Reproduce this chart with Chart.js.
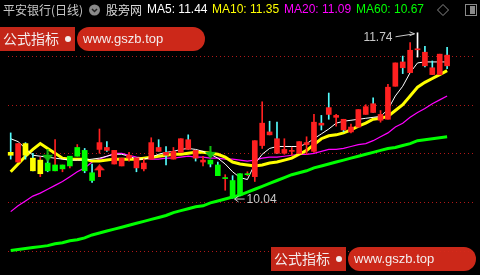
<!DOCTYPE html>
<html>
<head>
<meta charset="utf-8">
<script src="https://cdn.jsdelivr.net/npm/chart.js@4.4.1/dist/chart.umd.min.js"></script>
<style>
  html, body { margin: 0; padding: 0; background: #000; }
  #wrap { width: 480px; height: 275px; }
</style>
</head>
<body>
<div id="wrap"><canvas id="kline" width="480" height="275"></canvas></div>
<script>
// 平安银行 daily K-line with MA5/10/20/60, candles drawn as floating bars

// 60 trading days + 3 empty slots on the right
const days = ["1","2","3","4","5","6","7","8","9","10","11","12","13","14","15","16","17","18","19","20",
  "21","22","23","24","25","26","27","28","29","30","31","32","33","34","35","36","37","38","39","40",
  "41","42","43","44","45","46","47","48","49","50","51","52","53","54","55","56","57","58","59","60","","",""];

const opens = [10.51,10.41,10.60,10.45,10.29,10.40,10.32,10.34,10.37,10.47,10.53,10.30,10.54,10.56,10.39,10.37,10.45,10.45,10.34,10.44,
  10.56,10.51,10.44,10.51,10.64,10.53,10.41,10.43,10.38,10.24,10.22,10.29,10.28,10.26,10.58,10.72,10.65,10.50,10.52,10.50,
  10.59,10.52,10.81,10.97,10.87,10.85,10.72,10.77,10.90,11.01,10.84,10.85,11.19,11.44,11.33,11.565,11.54,11.38,11.31,11.51];
const closes = [10.48,10.60,10.48,10.32,10.43,10.32,10.38,10.38,10.47,10.56,10.32,10.22,10.61,10.53,10.53,10.45,10.48,10.35,10.40,10.61,
  10.52,10.48,10.52,10.65,10.54,10.45,10.43,10.39,10.27,10.25,10.04,10.07,10.29,10.63,10.81,10.69,10.50,10.54,10.53,10.62,
  10.61,10.82,10.79,10.90,10.89,10.74,10.77,10.95,10.98,10.92,10.90,11.18,11.43,11.38,11.56,11.565,11.40,11.31,11.52,11.40];
const highs = [10.71,10.60,10.61,10.50,10.46,10.44,10.64,10.38,10.47,10.59,10.55,10.39,10.75,10.62,10.53,10.45,10.51,10.45,10.44,10.66,
  10.64,10.57,10.56,10.65,10.69,10.53,10.47,10.43,10.41,10.28,10.27,10.29,10.31,10.63,11.03,10.83,10.82,10.65,10.56,10.62,
  10.67,10.90,10.89,11.12,10.90,10.85,10.80,10.95,11.00,11.07,10.94,11.21,11.43,11.50,11.64,11.74,11.60,11.45,11.52,11.59];
const lows = [10.44,10.41,10.44,10.32,10.26,10.31,10.32,10.31,10.35,10.47,10.30,10.20,10.50,10.52,10.39,10.37,10.42,10.31,10.32,10.44,
  10.52,10.38,10.44,10.51,10.54,10.42,10.37,10.36,10.27,10.12,10.04,10.07,10.27,10.21,10.55,10.69,10.50,10.49,10.48,10.50,
  10.49,10.51,10.74,10.85,10.78,10.72,10.71,10.77,10.90,10.92,10.82,10.85,11.19,11.32,11.33,11.49,11.39,11.31,11.31,11.37];
// indicator state per day (decides body colour)
const trend = ["hold","up","hold","hold","hold","down","down","down","down","down","down","down","up","up","up","up","up","up","up","up",
  "up","up","up","up","up","up","up","down","down","down","down","down","down","up","up","up","up","up","up","up",
  "up","up","up","up","up","up","up","up","up","up","up","up","up","up","up","up","up","up","up","up"];

const ma5 = [10.65,10.62,10.55,10.48,10.47,10.46,10.45,10.44,10.43,10.43,10.43,10.44,10.45,10.47,10.49,10.49,10.47,10.44,10.44,10.46,
  10.49,10.51,10.52,10.54,10.55,10.54,10.52,10.49,10.45,10.39,10.31,10.25,10.23,10.39,10.49,10.55,10.57,10.57,10.57,10.57,
  10.60,10.65,10.70,10.75,10.81,10.83,10.84,10.85,10.86,10.87,10.88,10.95,11.09,11.19,11.33,11.43,11.44,11.44,11.44,11.44];
const ma10 = [10.31,10.39,10.47,10.54,10.60,10.55,10.50,10.45,10.44,10.44,10.44,10.42,10.42,10.43,10.44,10.44,10.44,10.44,10.45,10.46,
  10.47,10.48,10.49,10.49,10.50,10.51,10.51,10.50,10.49,10.46,10.41,10.39,10.38,10.37,10.38,10.40,10.41,10.43,10.45,10.49,
  10.53,10.59,10.65,10.68,10.69,10.71,10.74,10.78,10.81,10.85,10.86,10.88,10.94,11.00,11.09,11.18,11.23,11.27,11.31,11.35];
const ma20 = [9.90,9.96,10.01,10.06,10.09,10.13,10.17,10.21,10.26,10.31,10.35,10.41,10.44,10.47,10.50,10.50,10.48,10.46,10.45,10.44,
  10.44,10.45,10.45,10.46,10.47,10.46,10.46,10.45,10.45,10.44,10.44,10.43,10.42,10.43,10.45,10.46,10.46,10.47,10.48,10.49,
  10.49,10.50,10.52,10.54,10.54,10.55,10.57,10.59,10.60,10.63,10.67,10.71,10.77,10.81,10.87,10.92,10.96,11.01,11.05,11.09];
const ma60 = [9.50,9.51,9.52,9.53,9.54,9.55,9.57,9.58,9.60,9.61,9.63,9.66,9.68,9.70,9.72,9.74,9.76,9.78,9.80,9.82,
  9.84,9.86,9.89,9.91,9.93,9.95,9.96,9.99,10.01,10.03,10.05,10.07,10.10,10.13,10.16,10.19,10.22,10.25,10.28,10.30,
  10.32,10.35,10.37,10.39,10.41,10.43,10.45,10.47,10.49,10.51,10.53,10.55,10.56,10.58,10.60,10.63,10.64,10.65,10.66,10.67];

// signal arrows: [day index, price]
const buySignals = [[12, 10.32]];
const sellSignals = [[5, 10.48], [27, 10.51]];

const gridPrices = [9.5, 10, 10.5, 11, 11.5];
const priceMin = 9.32;
const priceMax = 11.82;

const C = {
  red: "#ff2020",
  green: "#00ff00",
  yellow: "#ffff00",
  cyan: "#54fcfc",
  magenta: "#ff00ff",
  white: "#ffffff",
  grid: "#b01818",
  text: "#c8c8c8"
};
const CJK = '"Noto Sans CJK SC", "Liberation Sans", sans-serif';
const LAT = '"Liberation Sans", "DejaVu Sans", sans-serif';

const bodyColor = (t) => t === "hold" ? C.yellow : t === "down" ? C.green : C.red;
const wickColor = (i) => closes[i] > opens[i] ? C.red : closes[i] < opens[i] ? C.cyan : C.white;

function arrowImage(up, color) {
  const c = document.createElement("canvas");
  c.width = 11; c.height = 13;
  const g = c.getContext("2d");
  g.fillStyle = color;
  g.beginPath();
  if (up) {
    g.moveTo(5.5, 0); g.lineTo(11, 6); g.lineTo(0, 6); g.closePath(); g.fill();
    g.fillRect(4, 6, 3, 7);
  } else {
    g.fillRect(4.5, 0, 2, 7);
    g.moveTo(0, 6); g.lineTo(11, 6); g.lineTo(5.5, 13); g.closePath(); g.fill();
  }
  return c;
}

const lineDs = (label, data, color, width) => ({
  type: "line", label, data, borderColor: color, borderWidth: width,
  pointRadius: 0, tension: 0, order: 3
});

// dotted price grid, placed with the y scale
const dottedGrid = {
  id: "dottedGrid",
  beforeDatasetsDraw(chart) {
    const ctx = chart.ctx, ys = chart.scales.y, area = chart.chartArea;
    ctx.save();
    ctx.fillStyle = C.grid;
    gridPrices.forEach((p) => {
      const y = Math.round(ys.getPixelForValue(p));
      for (let x = area.left + 1; x < area.right; x += 4) ctx.fillRect(x, y, 1, 1);
    });
    ctx.restore();
  }
};

const overlay = {
  id: "overlay",
  afterDraw(chart) {
    const ctx = chart.ctx;
    const xs = chart.scales.x, ys = chart.scales.y;
    ctx.save();
    ctx.textBaseline = "middle";

    // header
    ctx.font = "12px " + CJK;
    ctx.fillStyle = C.text;
    ctx.fillText("平安银行(日线)", 3, 10);
    ctx.fillStyle = "#8a8a8a";
    ctx.beginPath(); ctx.arc(94.5, 10, 5.5, 0, Math.PI * 2); ctx.fill();
    ctx.strokeStyle = "#222"; ctx.lineWidth = 1.5;
    ctx.beginPath(); ctx.moveTo(92, 9); ctx.lineTo(94.5, 11.5); ctx.lineTo(97, 9); ctx.stroke();
    ctx.fillStyle = "#d8d8d8";
    ctx.fillText("股旁网", 106, 10);

    ctx.font = "12px " + LAT;
    const heads = [["MA5", ma5, C.white, 147], ["MA10", ma10, C.yellow, 212], ["MA20", ma20, C.magenta, 284], ["MA60", ma60, C.green, 356]];
    heads.forEach(([name, arr, col, x]) => {
      ctx.fillStyle = col;
      ctx.fillText(name + ": " + arr[arr.length - 1].toFixed(2), x, 10);
    });
    ctx.strokeStyle = "#8a8a8a"; ctx.lineWidth = 1;
    ctx.beginPath(); ctx.moveTo(443, 4.5); ctx.lineTo(448.5, 10); ctx.lineTo(443, 15.5); ctx.lineTo(437.5, 10); ctx.closePath(); ctx.stroke();
    ctx.strokeRect(465.5, 4.5, 11, 11);
    ctx.fillStyle = "#8a8a8a"; ctx.fillRect(470, 6, 5, 8);

    // high / low labels
    const hi = highs.indexOf(Math.max(...highs));
    const lo = lows.indexOf(Math.min(...lows));
    ctx.fillStyle = C.text; ctx.strokeStyle = C.text; ctx.lineWidth = 1;
    const hx = xs.getPixelForValue(hi), hy = ys.getPixelForValue(highs[hi]);
    ctx.textAlign = "right";
    ctx.fillText(highs[hi].toFixed(2), hx - 25, hy + 5);
    ctx.beginPath(); ctx.moveTo(hx - 22, hy + 4); ctx.lineTo(hx - 3, hy + 1); ctx.stroke();
    ctx.beginPath(); ctx.moveTo(hx - 8, hy - 1); ctx.lineTo(hx - 3, hy + 1); ctx.lineTo(hx - 8, hy + 3); ctx.stroke();
    const lx = xs.getPixelForValue(lo), ly = ys.getPixelForValue(lows[lo]);
    ctx.textAlign = "left";
    ctx.fillText(lows[lo].toFixed(2), lx + 14, ly + 2);
    ctx.beginPath(); ctx.moveTo(lx + 2, ly + 1); ctx.lineTo(lx + 12, ly + 1); ctx.stroke();
    ctx.beginPath(); ctx.moveTo(lx + 6, ly - 2); ctx.lineTo(lx + 2, ly + 1); ctx.lineTo(lx + 6, ly + 4); ctx.stroke();

    // watermark badges
    const badge = (x, y) => {
      ctx.fillStyle = "rgba(205,40,25,0.95)";
      ctx.fillRect(x, y, 75, 24);
      ctx.fillStyle = "rgba(215,42,26,0.95)";
      ctx.beginPath(); ctx.roundRect(x + 77, y, 128, 24, 12); ctx.fill();
      ctx.fillStyle = "#f4ecec";
      ctx.textAlign = "left";
      ctx.font = "14px " + CJK;
      ctx.fillText("公式指标", x + 3, y + 12);
      ctx.beginPath(); ctx.arc(x + 68, y + 12, 3, 0, Math.PI * 2); ctx.fill();
      ctx.font = "13px " + LAT;
      ctx.fillText("www.gszb.top", x + 83, y + 12);
    };
    badge(0, 27);
    badge(271, 247);
    ctx.restore();
  }
};

new Chart(document.getElementById("kline"), {
  data: {
    labels: days,
    datasets: [
      {
        type: "bar", label: "body", order: 1, grouped: false,
        data: opens.map((o, i) => [o, closes[i]]),
        backgroundColor: trend.map(bodyColor),
        barThickness: 5, minBarLength: 1, borderWidth: 0
      },
      {
        type: "bar", label: "wick", order: 2, grouped: false,
        data: lows.map((l, i) => [l, highs[i]]),
        backgroundColor: lows.map((l, i) => wickColor(i)),
        barThickness: 1, borderWidth: 0
      },
      lineDs("MA5", ma5, C.white, 1),
      lineDs("MA10", ma10, C.yellow, 3),
      lineDs("MA20", ma20, C.magenta, 1.2),
      lineDs("MA60", ma60, C.green, 3),
      {
        type: "line", label: "buy", order: 0, showLine: false,
        data: buySignals.map(([i, p]) => ({ x: days[i], y: p })),
        pointStyle: arrowImage(true, C.red), pointRadius: 6
      },
      {
        type: "line", label: "sell", order: 0, showLine: false,
        data: sellSignals.map(([i, p]) => ({ x: days[i], y: p })),
        pointStyle: arrowImage(false, "#10c010"), pointRadius: 6
      }
    ]
  },
  options: {
    responsive: false,
    animation: false,
    layout: { padding: { top: 25, left: 0, right: 0, bottom: 0 } },
    plugins: { legend: { display: false }, tooltip: { enabled: false } },
    scales: {
      x: { type: "category", offset: true, display: false },
      y: { min: priceMin, max: priceMax, display: false }
    }
  },
  plugins: [dottedGrid, overlay]
});
</script>
</body>
</html>
